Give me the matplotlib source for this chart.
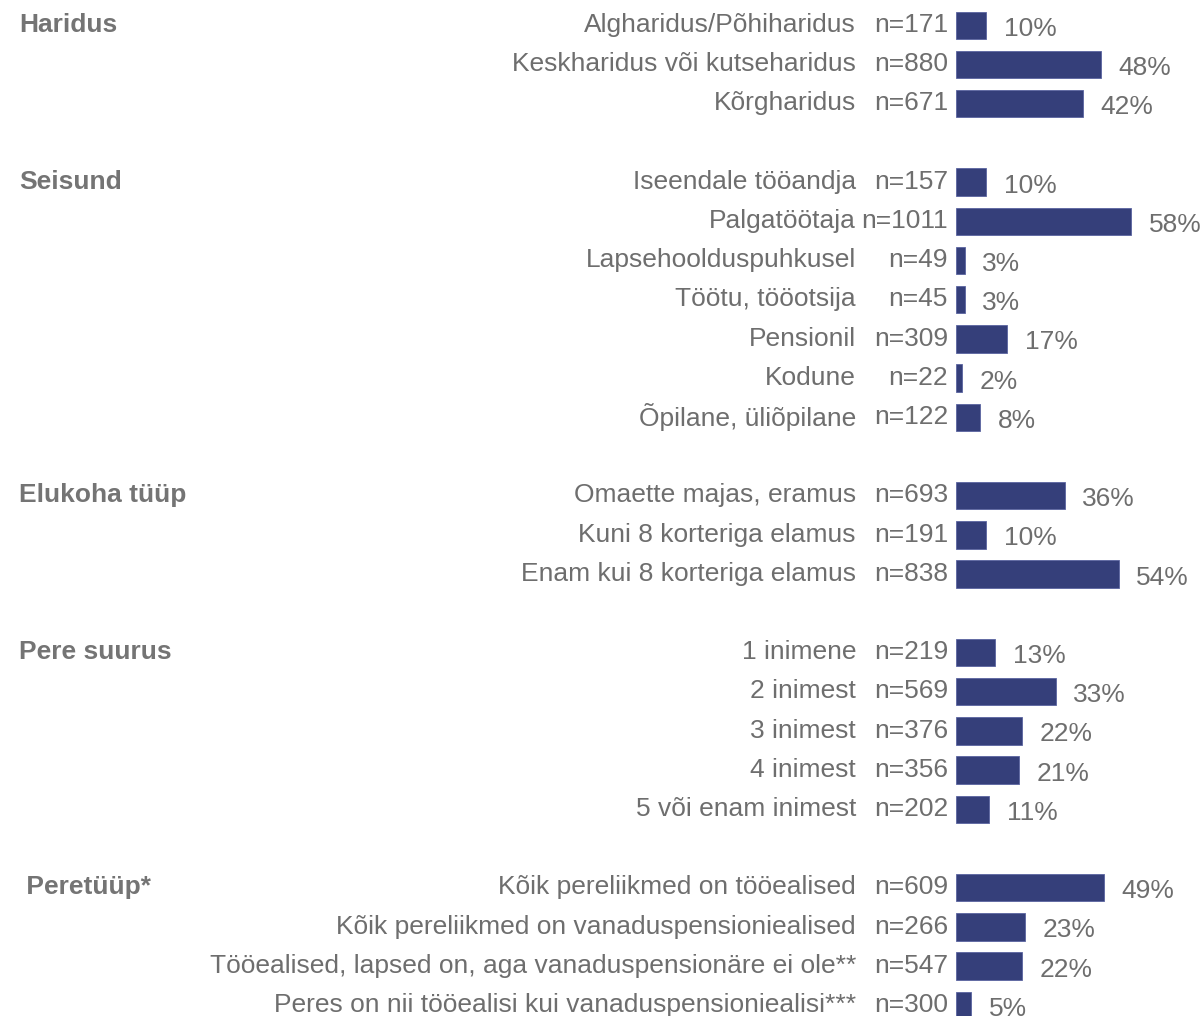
import matplotlib.pyplot as plt
import matplotlib.transforms as mtransforms

plt.rcParams["font.family"] = ["Liberation Sans", "DejaVu Sans"]

groups = ["Haridus", "Seisund", "Elukoha tüüp", "Pere suurus", " Peretüüp*"]

categories = [
    ["Algharidus/Põhiharidus", "Keskharidus või kutseharidus", "Kõrgharidus"],
    ["Iseendale tööandja", "Palgatöötaja", "Lapsehoolduspuhkusel", "Töötu, tööotsija",
     "Pensionil", "Kodune", "Õpilane, üliõpilane"],
    ["Omaette majas, eramus", "Kuni 8 korteriga elamus", "Enam kui 8 korteriga elamus"],
    ["1 inimene", "2 inimest", "3 inimest", "4 inimest", "5 või enam inimest"],
    ["Kõik pereliikmed on tööealised", "Kõik pereliikmed on vanaduspensioniealised",
     "Tööealised, lapsed on, aga vanaduspensionäre ei ole**",
     "Peres on nii tööealisi kui vanaduspensioniealisi***"],
]

counts = [
    [171, 880, 671],
    [157, 1011, 49, 45, 309, 22, 122],
    [693, 191, 838],
    [219, 569, 376, 356, 202],
    [609, 266, 547, 300],
]

percents = [
    [10, 48, 42],
    [10, 58, 3, 3, 17, 2, 8],
    [36, 10, 54],
    [13, 33, 22, 21, 11],
    [49, 23, 22, 5],
]

W, H = 1204, 1016
bar_color = "#353f7a"
text_color = "#6e6e6e"
row_h = 39.2
first_row = 23

fig = plt.figure(figsize=(W / 100, H / 100), dpi=100)
ax = fig.add_axes([956 / W, 0, 1 - 956 / W, 1])
ax.set_xlim(0, (W - 956) / 3.02)
ax.set_ylim((H - first_row) / row_h, -first_row / row_h)
ax.axis("off")

trans = mtransforms.blended_transform_factory(fig.transFigure, ax.transData)

# small downward nudge so text sits like the reference
dy = 0.05

row = 0
for g, cats, ns, ps in zip(groups, categories, counts, percents):
    ax.text(19 / W, row + dy, g, transform=trans, ha="left", va="center",
            fontsize=19, fontweight="bold", color="#747474")
    for c, n, p in zip(cats, ns, ps):
        ax.barh(row + 0.06, p, height=0.7, color=bar_color, edgecolor="#5a64a0", linewidth=0.6)
        ax.text(856 / W, row + dy, c, transform=trans, ha="right", va="center",
                fontsize=19, color=text_color)
        ax.text(948 / W, row + dy, f"n={n}", transform=trans, ha="right", va="center",
                fontsize=19, color=text_color)
        ax.annotate(f"{p}%", (p, row + 0.1 + dy), xytext=(12.5, 0), textcoords="offset points",
                    ha="left", va="center", fontsize=19, color=text_color,
                    annotation_clip=False)
        row += 1
    row += 1

fig.savefig("out.png", dpi=100)
